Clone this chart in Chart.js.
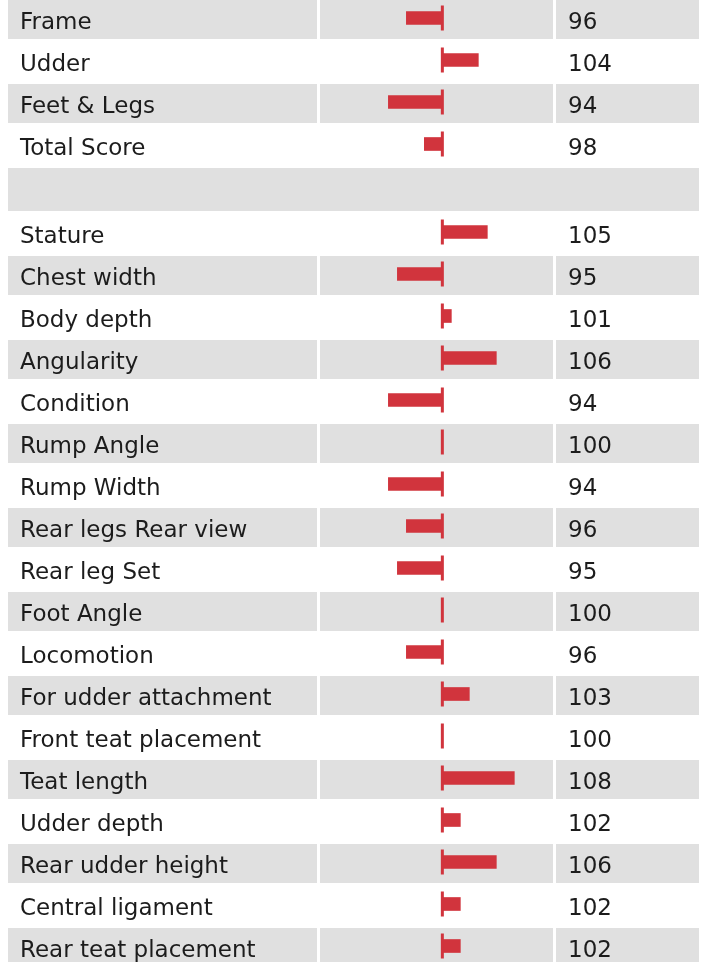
<!DOCTYPE html>
<html lang="en">

<head>
    <meta charset="UTF-8">
    <title>Linear traits</title>
    <script src="https://cdn.jsdelivr.net/npm/chart.js"></script>
    <style>
        html, body {
            margin: 0;
            padding: 0;
            background: #fff;
            overflow: hidden;
        }

        #page {
            position: relative;
            width: 703px;
            height: 962px;
        }

        .block {
            position: absolute;
            left: 0;
            width: 703px;
        }

        #spacer {
            position: absolute;
            left: 8px;
            width: 691px;
            top: 168px;
            height: 43px;
            background: #e0e0e0;
        }
    </style>
</head>

<body>
    <div id="page">
        <div class="block" id="topBlock" style="top: -3px; height: 168px;">
            <canvas id="summaryChart"></canvas>
        </div>
        <div id="spacer"></div>
        <div class="block" id="traitBlock" style="top: 211px; height: 756px;">
            <canvas id="traitChart"></canvas>
        </div>
    </div>

    <script>
        // summary scores
        const summaryLabels = ['Frame', 'Udder', 'Feet & Legs', 'Total Score'];
        const summaryValues = [96, 104, 94, 98];

        // linear traits
        const traitLabels = [
            'Stature', 'Chest width', 'Body depth', 'Angularity', 'Condition',
            'Rump Angle', 'Rump Width', 'Rear legs Rear view', 'Rear leg Set',
            'Foot Angle', 'Locomotion', 'For udder attachment', 'Front teat placement',
            'Teat length', 'Udder depth', 'Rear udder height', 'Central ligament',
            'Rear teat placement'
        ];
        const traitValues = [105, 95, 101, 106, 94, 100, 94, 96, 95, 100, 96, 103, 100, 108, 102, 106, 102, 102];

        const baseline = 100;
        const barColor = '#d1343d';
        const rowColor = '#e0e0e0';
        const textColor = '#1c1c1c';
        const fontFamily = '"DejaVu Sans", sans-serif';

        // grey rows, label column and value column, drawn under the bars
        const tablePlugin = {
            id: 'table',
            beforeDatasetsDraw(chart, args, opts) {
                const ctx = chart.ctx;
                const y = chart.scales.y;
                const labels = chart.data.labels;
                const values = opts.values;
                ctx.save();
                for (let i = 0; i < labels.length; i++) {
                    const c = y.getPixelForValue(i);
                    if ((i + opts.offset) % 2 === 0) {
                        ctx.fillStyle = rowColor;
                        ctx.fillRect(8, c - 18, 309, 39);
                        ctx.fillRect(320, c - 18, 233, 39);
                        ctx.fillRect(556, c - 18, 143, 39);
                    }
                    ctx.fillStyle = textColor;
                    ctx.font = '23px ' + fontFamily;
                    ctx.textBaseline = 'alphabetic';
                    ctx.textAlign = 'left';
                    ctx.fillText(labels[i], 20, c + 10.5);
                    ctx.fillText(String(values[i]), 568, c + 10.5);
                }
                ctx.restore();
            },
            afterDatasetsDraw(chart) {
                // short tick at the base value on every row
                const ctx = chart.ctx;
                const y = chart.scales.y;
                const x0 = chart.scales.x.getPixelForValue(baseline);
                ctx.save();
                ctx.fillStyle = barColor;
                for (let i = 0; i < chart.data.labels.length; i++) {
                    const c = y.getPixelForValue(i);
                    ctx.fillRect(x0 - 1.5, c - 12.5, 3, 25);
                }
                ctx.restore();
            }
        };

        function criarGrafico(canvasId, labels, values, offset) {
            const config = {
                type: 'bar',
                data: {
                    labels: labels,
                    datasets: [{
                        data: values.map(v => [baseline, v]),
                        backgroundColor: barColor,
                        borderWidth: 0,
                        barThickness: 13,
                        borderSkipped: false
                    }]
                },
                options: {
                    indexAxis: 'y',
                    responsive: true,
                    maintainAspectRatio: false,
                    animation: false,
                    layout: {
                        padding: { left: 320, right: 150, top: 0, bottom: 0 }
                    },
                    scales: {
                        x: {
                            display: false,
                            min: 86.4,
                            max: 112.3
                        },
                        y: {
                            display: false
                        }
                    },
                    plugins: {
                        legend: { display: false },
                        tooltip: { enabled: false },
                        table: { values: values, offset: offset }
                    }
                },
                plugins: [tablePlugin]
            };
            return new Chart(document.getElementById(canvasId), config);
        }

        criarGrafico('summaryChart', summaryLabels, summaryValues, 0);
        criarGrafico('traitChart', traitLabels, traitValues, 1);
    </script>
</body>

</html>
